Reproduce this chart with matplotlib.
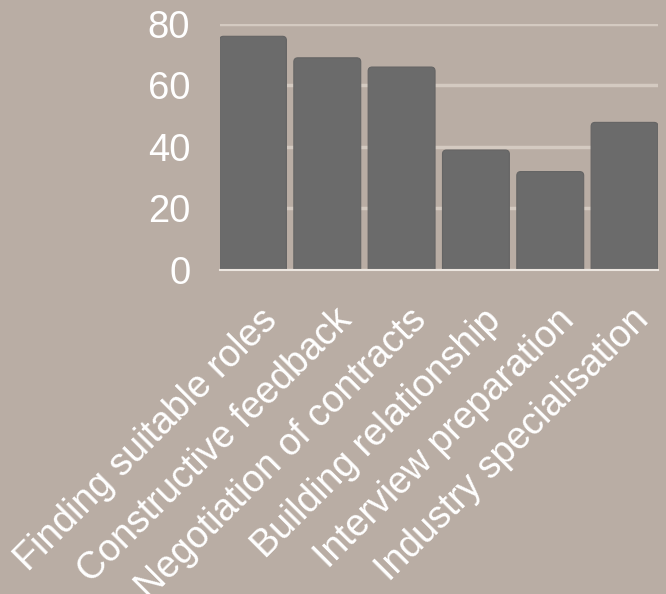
import matplotlib.pyplot as plt
from matplotlib.patches import FancyBboxPatch
from matplotlib.transforms import ScaledTranslation

plt.rcParams['font.family'] = ['Liberation Sans', 'DejaVu Sans']

# dados do gráfico
categorias = ['Finding suitable roles', 'Constructive feedback', 'Negotiation of contracts',
              'Building relationship', 'Interview preparation', 'Industry specialisation']
valores = [76, 69, 66, 39, 32, 48]
ticks_y = [0, 20, 40, 60, 80]

fundo = '#b9ada4'
cor_barra = '#6b6b6b'

fig = plt.figure(figsize=(6.66, 5.94), dpi=100, facecolor=fundo)
ax = fig.add_axes([0.3296, 0.5455, 0.6584, 0.4141])
ax.set_facecolor(fundo)

x = list(range(len(categorias)))
barras = ax.bar(x, valores, width=0.9, color=cor_barra)
ax.set_xlim(-0.45, len(categorias) - 0.55)
ax.set_ylim(0, 80)

# troca as barras por retângulos com cantos arredondados
px_x = (ax.get_xlim()[1] - ax.get_xlim()[0]) / (ax.get_position().width * 666)
px_y = (ax.get_ylim()[1] - ax.get_ylim()[0]) / (ax.get_position().height * 594)
raio = 4 * px_x
for b in barras:
    b.set_visible(False)
    caixa = FancyBboxPatch((b.get_x(), -10 * px_y), b.get_width(), b.get_height() + 10 * px_y,
                           boxstyle=f'round,pad=0,rounding_size={raio}',
                           mutation_aspect=px_y / px_x,
                           facecolor=cor_barra, edgecolor='#646464', linewidth=0.8, zorder=2)
    ax.add_patch(caixa)

ax.set_yticks(ticks_y)
ax.set_yticklabels([str(t) for t in ticks_y])
ax.grid(axis='y', color='#d4cac1', linewidth=2.5, zorder=0)
ax.set_axisbelow(True)
for lado in ['top', 'right', 'left']:
    ax.spines[lado].set_visible(False)
ax.spines['bottom'].set_color('#ece6e0')
ax.spines['bottom'].set_linewidth(1.5)
ax.spines['bottom'].set_zorder(3)

ax.tick_params(axis='both', length=0, colors='white', labelsize=27)
ax.tick_params(axis='y', labelsize=27.5, pad=21)
ax.set_xticks(x)
ax.set_xticklabels(categorias, rotation=45, ha='right', va='center', rotation_mode='anchor')
desloc = ScaledTranslation(19 / 100, -40 / 100, fig.dpi_scale_trans)
for rotulo in ax.get_xticklabels():
    rotulo.set_transform(rotulo.get_transform() + desloc)

fig.savefig('out.png', dpi=100, facecolor=fundo)
